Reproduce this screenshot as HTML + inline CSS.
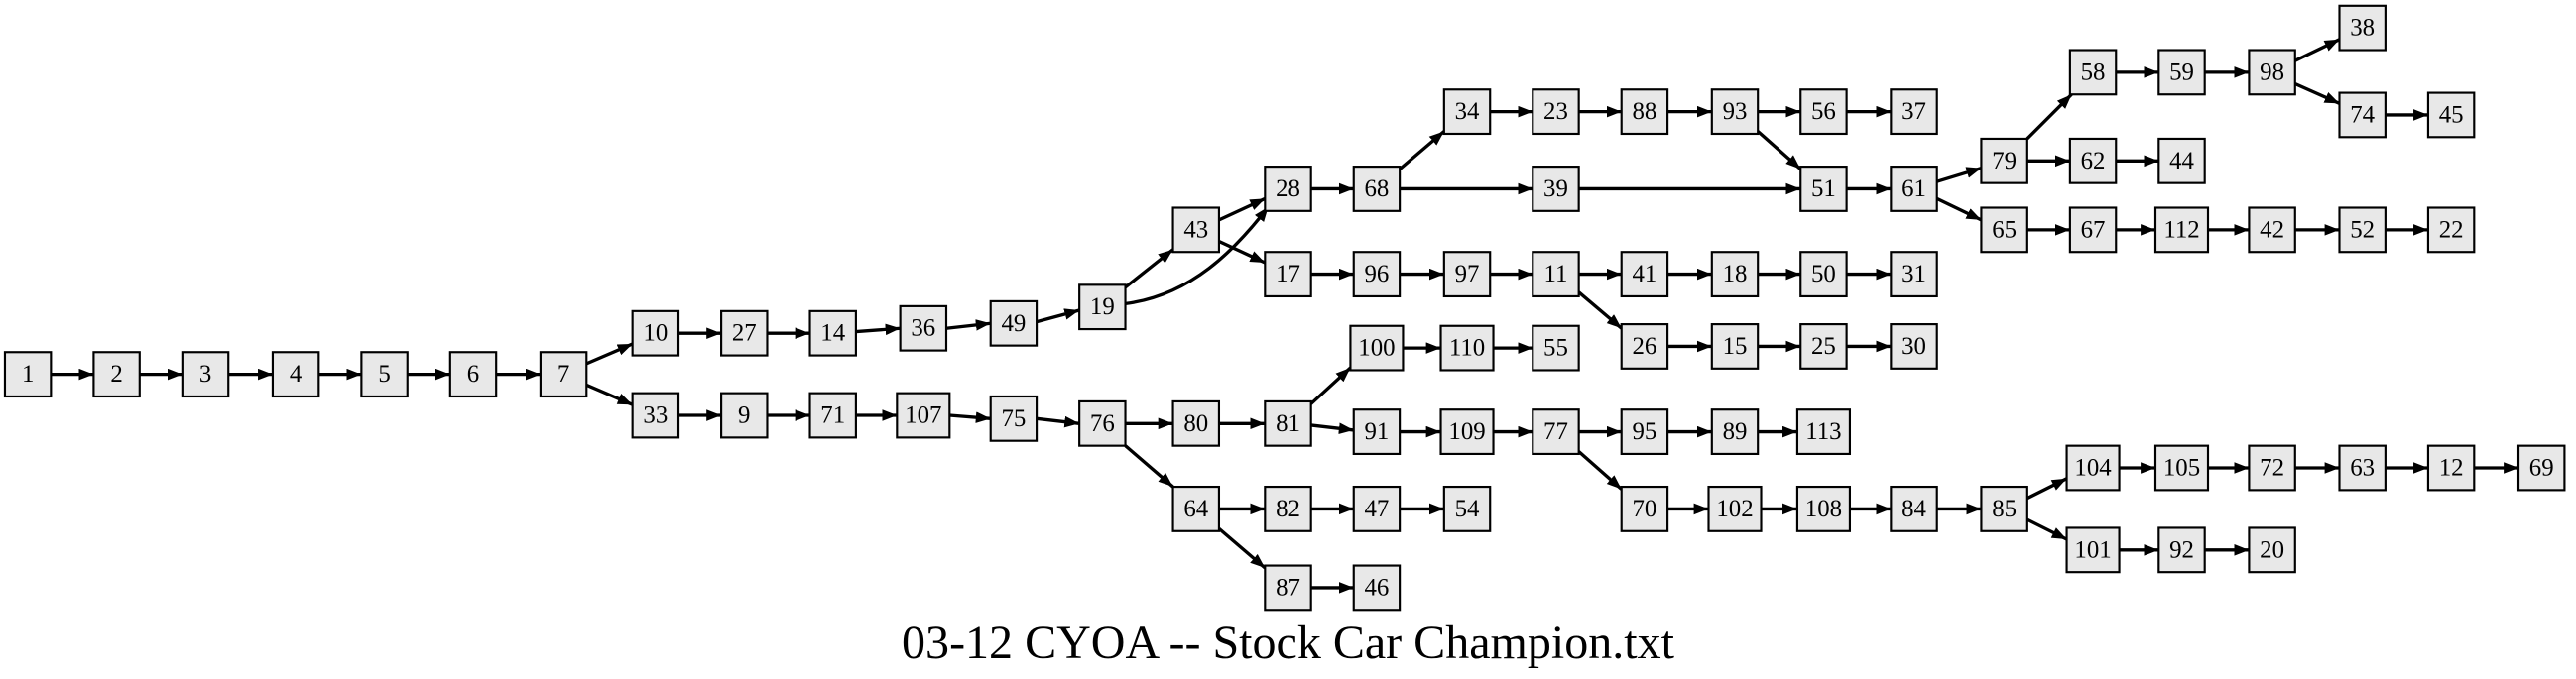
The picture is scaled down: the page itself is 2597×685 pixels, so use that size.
<!DOCTYPE html>
<html><head><meta charset="utf-8"><style>
html,body{margin:0;padding:0;background:#fff;}
svg{display:block}
text{font-family:"Liberation Serif",serif;}
</style></head><body>
<svg width="2597" height="685" viewBox="0 0 1568 413.6" preserveAspectRatio="none" xmlns="http://www.w3.org/2000/svg">
<defs><marker id="a" markerUnits="userSpaceOnUse" markerWidth="10" markerHeight="8" refX="9" refY="3.5" orient="auto"><path d="M0,0 L9,3.5 L0,7 z" fill="#000"/></marker></defs>
<g stroke="#000" stroke-width="2" fill="none" marker-end="url(#a)">
<line x1="31" y1="228" x2="57" y2="228"/>
<line x1="85" y1="228" x2="111" y2="228"/>
<line x1="139" y1="228" x2="166" y2="228"/>
<line x1="194" y1="228" x2="220" y2="228"/>
<line x1="248" y1="228" x2="274" y2="228"/>
<line x1="302" y1="228" x2="329" y2="228"/>
<line x1="357" y1="221.5" x2="385" y2="209.5"/>
<line x1="357" y1="234.5" x2="385" y2="246.5"/>
<line x1="413" y1="203" x2="439" y2="203"/>
<line x1="467" y1="203" x2="493" y2="203"/>
<line x1="521" y1="202" x2="548" y2="200"/>
<line x1="576" y1="200" x2="603" y2="197"/>
<line x1="631" y1="196" x2="657" y2="189"/>
<path d="M685,185 C725,180 752,152 772,126"/>
<line x1="685" y1="175" x2="714" y2="152"/>
<line x1="742" y1="134" x2="770" y2="121"/>
<line x1="742" y1="147" x2="770" y2="160"/>
<line x1="798" y1="115" x2="824" y2="115"/>
<line x1="852" y1="103" x2="879" y2="80"/>
<line x1="852" y1="115" x2="933" y2="115"/>
<line x1="907" y1="68" x2="933" y2="68"/>
<line x1="961" y1="68" x2="987" y2="68"/>
<line x1="1015" y1="68" x2="1042" y2="68"/>
<line x1="1070" y1="68" x2="1096" y2="68"/>
<line x1="1124" y1="68" x2="1151" y2="68"/>
<line x1="1070" y1="80" x2="1096" y2="103"/>
<line x1="961" y1="115" x2="1096" y2="115"/>
<line x1="1124" y1="115" x2="1151" y2="115"/>
<line x1="1179" y1="110.6" x2="1206" y2="102.4"/>
<line x1="1179" y1="121" x2="1206" y2="134"/>
<line x1="1234" y1="84.5" x2="1261" y2="57.5"/>
<line x1="1234" y1="98" x2="1260" y2="98"/>
<line x1="1288" y1="98" x2="1314" y2="98"/>
<line x1="1288" y1="44" x2="1314" y2="44"/>
<line x1="1342" y1="44" x2="1369" y2="44"/>
<line x1="1397" y1="37" x2="1424" y2="24"/>
<line x1="1397" y1="51" x2="1424" y2="63"/>
<line x1="1452" y1="70" x2="1478" y2="70"/>
<line x1="1234" y1="140" x2="1260" y2="140"/>
<line x1="1288" y1="140" x2="1312" y2="140"/>
<line x1="1344" y1="140" x2="1369" y2="140"/>
<line x1="1397" y1="140" x2="1424" y2="140"/>
<line x1="1452" y1="140" x2="1478" y2="140"/>
<line x1="798" y1="167" x2="824" y2="167"/>
<line x1="852" y1="167" x2="879" y2="167"/>
<line x1="907" y1="167" x2="933" y2="167"/>
<line x1="961" y1="167" x2="987" y2="167"/>
<line x1="1015" y1="167" x2="1042" y2="167"/>
<line x1="1070" y1="167" x2="1096" y2="167"/>
<line x1="1124" y1="167" x2="1151" y2="167"/>
<line x1="961" y1="178" x2="987" y2="200"/>
<line x1="1015" y1="211" x2="1042" y2="211"/>
<line x1="1070" y1="211" x2="1096" y2="211"/>
<line x1="1124" y1="211" x2="1151" y2="211"/>
<line x1="413" y1="253" x2="439" y2="253"/>
<line x1="467" y1="253" x2="493" y2="253"/>
<line x1="521" y1="253" x2="546" y2="253"/>
<line x1="578" y1="253" x2="603" y2="255"/>
<line x1="631" y1="255" x2="657" y2="258"/>
<line x1="685" y1="258" x2="714" y2="258"/>
<line x1="685" y1="271.5" x2="714" y2="296.5"/>
<line x1="742" y1="258" x2="770" y2="258"/>
<line x1="798" y1="246" x2="822" y2="224"/>
<line x1="798" y1="259" x2="824" y2="262"/>
<line x1="854" y1="212" x2="877" y2="212"/>
<line x1="909" y1="212" x2="933" y2="212"/>
<line x1="852" y1="263" x2="877" y2="263"/>
<line x1="909" y1="263" x2="933" y2="263"/>
<line x1="961" y1="263" x2="987" y2="263"/>
<line x1="1015" y1="263" x2="1042" y2="263"/>
<line x1="1070" y1="263" x2="1094" y2="263"/>
<line x1="961" y1="275" x2="987" y2="298"/>
<line x1="1015" y1="310" x2="1040" y2="310"/>
<line x1="1072" y1="310" x2="1094" y2="310"/>
<line x1="1126" y1="310" x2="1151" y2="310"/>
<line x1="1179" y1="310" x2="1206" y2="310"/>
<line x1="1234" y1="303.5" x2="1258" y2="291.5"/>
<line x1="1234" y1="316.5" x2="1258" y2="328.5"/>
<line x1="1290" y1="285" x2="1312" y2="285"/>
<line x1="1344" y1="285" x2="1369" y2="285"/>
<line x1="1397" y1="285" x2="1424" y2="285"/>
<line x1="1452" y1="285" x2="1478" y2="285"/>
<line x1="1506" y1="285" x2="1533" y2="285"/>
<line x1="1290" y1="335" x2="1314" y2="335"/>
<line x1="1342" y1="335" x2="1369" y2="335"/>
<line x1="742" y1="310" x2="770" y2="310"/>
<line x1="742" y1="322" x2="770" y2="346"/>
<line x1="798" y1="310" x2="824" y2="310"/>
<line x1="852" y1="310" x2="879" y2="310"/>
<line x1="798" y1="358" x2="824" y2="358"/>
</g>
<g fill="#e8e8e8" stroke="#000" stroke-width="1.3">
<rect x="3" y="214.5" width="28" height="27"/><rect x="57" y="214.5" width="28" height="27"/><rect x="111" y="214.5" width="28" height="27"/><rect x="166" y="214.5" width="28" height="27"/><rect x="220" y="214.5" width="28" height="27"/><rect x="274" y="214.5" width="28" height="27"/><rect x="329" y="214.5" width="28" height="27"/>
<rect x="385" y="189.5" width="28" height="27"/><rect x="439" y="189.5" width="28" height="27"/><rect x="493" y="189.5" width="28" height="27"/><rect x="548" y="186.5" width="28" height="27"/><rect x="603" y="183.5" width="28" height="27"/><rect x="657" y="173.5" width="28" height="27"/>
<rect x="714" y="126.5" width="28" height="27"/><rect x="770" y="101.5" width="28" height="27"/><rect x="770" y="153.5" width="28" height="27"/><rect x="824" y="101.5" width="28" height="27"/><rect x="879" y="54.5" width="28" height="27"/><rect x="933" y="101.5" width="28" height="27"/>
<rect x="933" y="54.5" width="28" height="27"/><rect x="987" y="54.5" width="28" height="27"/><rect x="1042" y="54.5" width="28" height="27"/><rect x="1096" y="54.5" width="28" height="27"/><rect x="1151" y="54.5" width="28" height="27"/><rect x="1096" y="101.5" width="28" height="27"/><rect x="1151" y="101.5" width="28" height="27"/>
<rect x="1206" y="84.5" width="28" height="27"/><rect x="1206" y="126.5" width="28" height="27"/><rect x="1260" y="30.5" width="28" height="27"/><rect x="1260" y="84.5" width="28" height="27"/><rect x="1314" y="30.5" width="28" height="27"/><rect x="1369" y="30.5" width="28" height="27"/><rect x="1424" y="3.5" width="28" height="27"/><rect x="1424" y="56.5" width="28" height="27"/><rect x="1478" y="56.5" width="28" height="27"/><rect x="1314" y="84.5" width="28" height="27"/>
<rect x="1260" y="126.5" width="28" height="27"/><rect x="1312" y="126.5" width="32" height="27"/><rect x="1369" y="126.5" width="28" height="27"/><rect x="1424" y="126.5" width="28" height="27"/><rect x="1478" y="126.5" width="28" height="27"/>
<rect x="824" y="153.5" width="28" height="27"/><rect x="879" y="153.5" width="28" height="27"/><rect x="933" y="153.5" width="28" height="27"/><rect x="987" y="153.5" width="28" height="27"/><rect x="1042" y="153.5" width="28" height="27"/><rect x="1096" y="153.5" width="28" height="27"/><rect x="1151" y="153.5" width="28" height="27"/>
<rect x="987" y="197.5" width="28" height="27"/><rect x="1042" y="197.5" width="28" height="27"/><rect x="1096" y="197.5" width="28" height="27"/><rect x="1151" y="197.5" width="28" height="27"/>
<rect x="385" y="239.5" width="28" height="27"/><rect x="439" y="239.5" width="28" height="27"/><rect x="493" y="239.5" width="28" height="27"/><rect x="546" y="239.5" width="32" height="27"/><rect x="603" y="241.5" width="28" height="27"/><rect x="657" y="244.5" width="28" height="27"/><rect x="714" y="244.5" width="28" height="27"/><rect x="714" y="296.5" width="28" height="27"/>
<rect x="770" y="244.5" width="28" height="27"/><rect x="822" y="198.5" width="32" height="27"/><rect x="877" y="198.5" width="32" height="27"/><rect x="933" y="198.5" width="28" height="27"/><rect x="824" y="249.5" width="28" height="27"/><rect x="877" y="249.5" width="32" height="27"/><rect x="933" y="249.5" width="28" height="27"/><rect x="987" y="249.5" width="28" height="27"/><rect x="1042" y="249.5" width="28" height="27"/><rect x="1094" y="249.5" width="32" height="27"/>
<rect x="987" y="296.5" width="28" height="27"/><rect x="1040" y="296.5" width="32" height="27"/><rect x="1094" y="296.5" width="32" height="27"/><rect x="1151" y="296.5" width="28" height="27"/><rect x="1206" y="296.5" width="28" height="27"/><rect x="1258" y="271.5" width="32" height="27"/><rect x="1312" y="271.5" width="32" height="27"/><rect x="1369" y="271.5" width="28" height="27"/><rect x="1424" y="271.5" width="28" height="27"/><rect x="1478" y="271.5" width="28" height="27"/><rect x="1533" y="271.5" width="28" height="27"/><rect x="1258" y="321.5" width="32" height="27"/><rect x="1314" y="321.5" width="28" height="27"/><rect x="1369" y="321.5" width="28" height="27"/>
<rect x="770" y="296.5" width="28" height="27"/><rect x="824" y="296.5" width="28" height="27"/><rect x="879" y="296.5" width="28" height="27"/><rect x="770" y="344.5" width="28" height="27"/><rect x="824" y="344.5" width="28" height="27"/>
</g>
<g font-size="15" text-anchor="middle" fill="#000" dominant-baseline="central">
<text x="17" y="228">1</text><text x="71" y="228">2</text><text x="125" y="228">3</text><text x="180" y="228">4</text><text x="234" y="228">5</text><text x="288" y="228">6</text><text x="343" y="228">7</text>
<text x="399" y="203">10</text><text x="453" y="203">27</text><text x="507" y="203">14</text><text x="562" y="200">36</text><text x="617" y="197">49</text><text x="671" y="187">19</text>
<text x="728" y="140">43</text><text x="784" y="115">28</text><text x="784" y="167">17</text><text x="838" y="115">68</text><text x="893" y="68">34</text><text x="947" y="115">39</text>
<text x="947" y="68">23</text><text x="1001" y="68">88</text><text x="1056" y="68">93</text><text x="1110" y="68">56</text><text x="1165" y="68">37</text><text x="1110" y="115">51</text><text x="1165" y="115">61</text>
<text x="1220" y="98">79</text><text x="1220" y="140">65</text><text x="1274" y="44">58</text><text x="1274" y="98">62</text><text x="1328" y="44">59</text><text x="1383" y="44">98</text><text x="1438" y="17">38</text><text x="1438" y="70">74</text><text x="1492" y="70">45</text><text x="1328" y="98">44</text>
<text x="1274" y="140">67</text><text x="1328" y="140">112</text><text x="1383" y="140">42</text><text x="1438" y="140">52</text><text x="1492" y="140">22</text>
<text x="838" y="167">96</text><text x="893" y="167">97</text><text x="947" y="167">11</text><text x="1001" y="167">41</text><text x="1056" y="167">18</text><text x="1110" y="167">50</text><text x="1165" y="167">31</text>
<text x="1001" y="211">26</text><text x="1056" y="211">15</text><text x="1110" y="211">25</text><text x="1165" y="211">30</text>
<text x="399" y="253">33</text><text x="453" y="253">9</text><text x="507" y="253">71</text><text x="562" y="253">107</text><text x="617" y="255">75</text><text x="671" y="258">76</text><text x="728" y="258">80</text><text x="728" y="310">64</text>
<text x="784" y="258">81</text><text x="838" y="212">100</text><text x="893" y="212">110</text><text x="947" y="212">55</text><text x="838" y="263">91</text><text x="893" y="263">109</text><text x="947" y="263">77</text><text x="1001" y="263">95</text><text x="1056" y="263">89</text><text x="1110" y="263">113</text>
<text x="1001" y="310">70</text><text x="1056" y="310">102</text><text x="1110" y="310">108</text><text x="1165" y="310">84</text><text x="1220" y="310">85</text><text x="1274" y="285">104</text><text x="1328" y="285">105</text><text x="1383" y="285">72</text><text x="1438" y="285">63</text><text x="1492" y="285">12</text><text x="1547" y="285">69</text><text x="1274" y="335">101</text><text x="1328" y="335">92</text><text x="1383" y="335">20</text>
<text x="784" y="310">82</text><text x="838" y="310">47</text><text x="893" y="310">54</text><text x="784" y="358">87</text><text x="838" y="358">46</text>
</g>
<text x="784" y="401" font-size="29" text-anchor="middle">03-12 CYOA -- Stock Car Champion.txt</text>
</svg>
</body></html>
